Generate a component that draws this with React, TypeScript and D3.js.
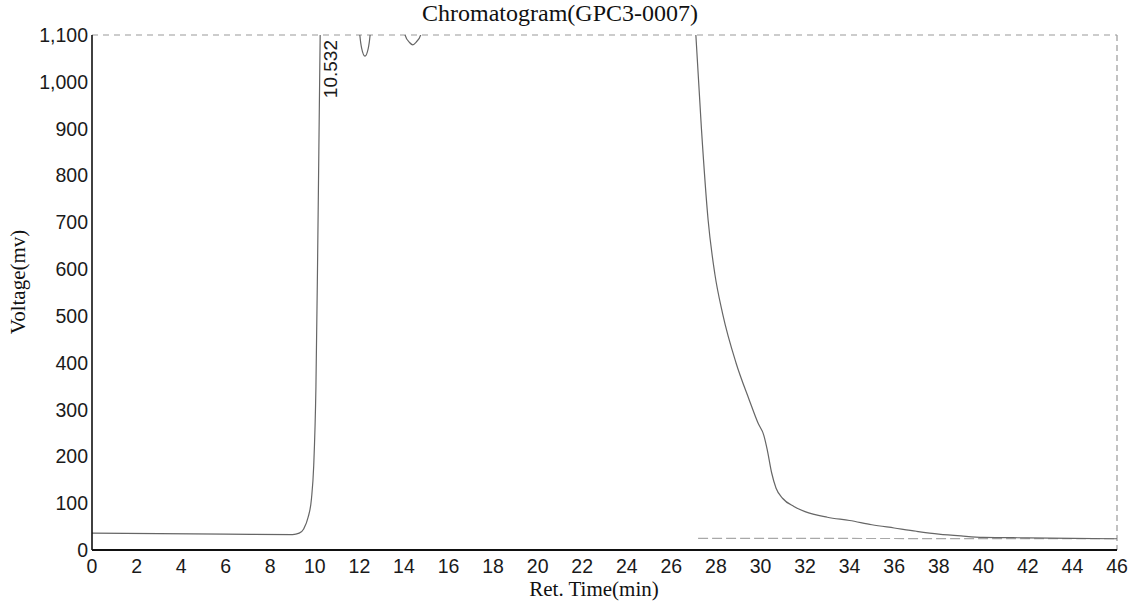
import React from "react";
import * as d3 from "d3";

const TITLE = "Chromatogram(GPC3-0007)";
const X_LABEL = "Ret. Time(min)";
const Y_LABEL = "Voltage(mv)";
const X_TICKS = [0, 2, 4, 6, 8, 10, 12, 14, 16, 18, 20, 22, 24, 26, 28, 30, 32, 34, 36, 38, 40, 42, 44, 46];
const Y_TICKS = [0, 100, 200, 300, 400, 500, 600, 700, 800, 900, 1000, 1100];
const PEAK_LABEL = "10.532";
const PEAK_TIME = 10.532;

// Retention time (min) and detector voltage (mV); values above 1100 are off-scale (clipped)
const TIMES = [
  0, 3, 6, 9.0, 9.3, 9.5, 9.7, 9.85, 9.95, 10.05, 10.12, 10.18, 10.24, 10.3,
  11.8, 12.0, 12.1, 12.25, 12.4, 12.5, 12.7,
  13.8, 14.05, 14.25, 14.4, 14.55, 14.75, 15.0,
  20, 26.9, 27.1, 27.35, 27.65, 27.95, 28.3, 28.9, 29.5, 29.9, 30.15, 30.3, 30.5, 30.7,
  31.0, 31.5, 32, 33, 34, 35, 36, 37, 38, 39, 40, 42, 44, 46,
];
const VOLTAGES = [
  36, 35, 34, 33, 36, 45, 70, 110, 180, 350, 600, 850, 1100, 1300,
  1300, 1110, 1072, 1055, 1072, 1110, 1300,
  1300, 1100, 1084, 1079, 1085, 1100, 1300,
  1400, 1300, 1100, 900, 705, 590, 505, 400, 320, 270, 245, 215, 165, 132,
  110, 93, 82, 70, 63, 54, 47, 40, 34, 30, 27, 26, 25, 24,
];
const BASELINE_TIMES = [27.2, 46];
const BASELINE_VOLTAGES = [25, 24];

const W = 1131;
const H = 605;
const M = { left: 92, right: 1117, top: 35, bottom: 550 };

export default function App() {
  const x = d3.scaleLinear().domain([0, 46]).range([M.left, M.right]);
  const y = d3.scaleLinear().domain([0, 1100]).range([M.bottom, M.top]);
  const pts: [number, number][] = TIMES.map((t, i) => [t, VOLTAGES[i]]);
  const line = d3
    .line<[number, number]>()
    .x((d) => x(d[0]))
    .y((d) => y(d[1]))
    .curve(d3.curveMonotoneX);
  const bl: [number, number][] = BASELINE_TIMES.map((t, i) => [t, BASELINE_VOLTAGES[i]]);
  const blLine = d3
    .line<[number, number]>()
    .x((d) => x(d[0]))
    .y((d) => y(d[1]));
  const sans = "'Liberation Sans', Arial, sans-serif";
  const serif = "'Liberation Serif', 'Times New Roman', serif";
  return (
    <svg
      width={W}
      height={H}
      style={{ position: "absolute", left: 0, top: 0, background: "#fff" }}
    >
      <defs>
        <clipPath id="plotClip">
          <rect x={M.left} y={M.top} width={M.right - M.left} height={M.bottom - M.top} />
        </clipPath>
      </defs>
      <rect x={0} y={0} width={W} height={H} fill="#fff" />
      {/* frame: dashed top and right */}
      <line x1={M.left} x2={M.right} y1={M.top} y2={M.top} stroke="#9a9a9a" strokeWidth={1.2} strokeDasharray="6,5" />
      <line x1={M.right} x2={M.right} y1={M.top} y2={M.bottom} stroke="#9a9a9a" strokeWidth={1.2} strokeDasharray="6,4" />
      {/* baseline */}
      <path d={blLine(bl) || ""} fill="none" stroke="#a8a8a8" strokeWidth={1.2} strokeDasharray="10,4" />
      {/* signal */}
      <path d={line(pts) || ""} fill="none" stroke="#666" strokeWidth={1.2} clipPath="url(#plotClip)" />
      {/* axes */}
      <line x1={M.left} x2={M.left} y1={M.top} y2={M.bottom} stroke="#111" strokeWidth={1.6} />
      <line x1={M.left} x2={M.right} y1={M.bottom} y2={M.bottom} stroke="#111" strokeWidth={2} />
      {Y_TICKS.map((v) => (
        <text key={v} x={M.left - 4} y={y(v) + 7} textAnchor="end" fontFamily={sans} fontSize={19.5} fill="#1a1a1a">
          {d3.format(",")(v)}
        </text>
      ))}
      {X_TICKS.map((t) => (
        <text key={t} x={x(t)} y={M.bottom + 23} textAnchor="middle" fontFamily={sans} fontSize={19.5} fill="#1a1a1a">
          {t}
        </text>
      ))}
      <text
        transform={`translate(${x(PEAK_TIME) + 10},${M.top + 5}) rotate(-90)`}
        textAnchor="end"
        fontFamily={sans}
        fontSize={19}
        fill="#1a1a1a"
      >
        {PEAK_LABEL}
      </text>
      <text x={560} y={21} textAnchor="middle" fontFamily={serif} fontSize={24} fill="#111">
        {TITLE}
      </text>
      <text x={594} y={596} textAnchor="middle" fontFamily={serif} fontSize={21} fill="#111">
        {X_LABEL}
      </text>
      <text
        transform={`translate(25,282) rotate(-90)`}
        textAnchor="middle"
        fontFamily={serif}
        fontSize={21}
        fill="#111"
      >
        {Y_LABEL}
      </text>
    </svg>
  );
}
